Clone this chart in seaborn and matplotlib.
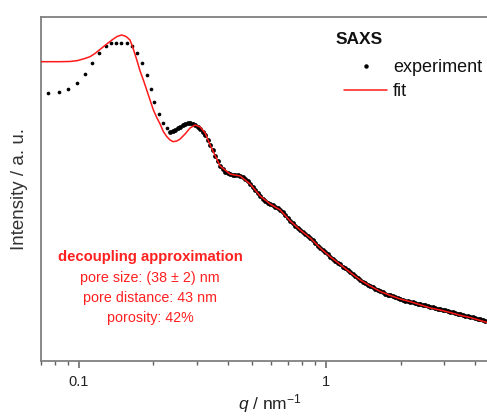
import matplotlib
matplotlib.use("Agg")
import matplotlib.pyplot as plt
import seaborn as sns
import pandas as pd
from matplotlib.lines import Line2D
from matplotlib.ticker import LogLocator, FixedLocator, FixedFormatter, NullFormatter

# ---- data ----
# low-q experimental points (sparse on the log axis)
q_exp_low = [0.0751, 0.0830, 0.0905, 0.0979, 0.1057, 0.1129, 0.1205, 0.1286, 0.1348, 0.1412,
             0.1479, 0.1560, 0.1640, 0.1722, 0.1804, 0.1880, 0.1950, 0.2018, 0.2102, 0.2180,
             0.2265]
I_exp_low = [1318, 1343, 1443, 1695, 2175, 2942, 3784, 4603, 4945, 5025,
             5025, 4945, 4603, 3784, 2942, 2117, 1443, 1027, 745, 581,
             508]

# higher-q experimental points (dense on the log axis)
q_exp_high = [0.2336, 0.2391, 0.2447, 0.2505, 0.2564, 0.2625, 0.2686, 0.2750, 0.2814, 0.2880,
              0.2948, 0.3018, 0.3090, 0.3163, 0.3237, 0.3313, 0.3392, 0.3472, 0.3553, 0.3637,
              0.3723, 0.3811, 0.3900, 0.3992, 0.4086, 0.4182, 0.4281, 0.4382, 0.4485, 0.4591,
              0.4699, 0.4810, 0.4923, 0.5039, 0.5159, 0.5281, 0.5405, 0.5533, 0.5662, 0.5796,
              0.5933, 0.6073, 0.6216, 0.6363, 0.6512, 0.6666, 0.6823, 0.6984, 0.7149, 0.7318,
              0.7490, 0.7667, 0.7847, 0.8032, 0.8222, 0.8416, 0.8614, 0.8817, 0.9025, 0.9238,
              0.9456, 0.9679, 0.9908, 1.0142, 1.038, 1.0625, 1.087, 1.113, 1.139, 1.166,
              1.194, 1.222, 1.251, 1.281, 1.310, 1.341, 1.373, 1.405, 1.439, 1.473,
              1.507, 1.543, 1.579, 1.616, 1.655, 1.694, 1.734, 1.775, 1.816, 1.859,
              1.903, 1.948, 1.994, 2.041, 2.089, 2.138, 2.188, 2.240, 2.293, 2.347,
              2.402, 2.459, 2.517, 2.576, 2.637, 2.699, 2.763, 2.828, 2.894, 2.962,
              3.033, 3.105, 3.177, 3.252, 3.329, 3.407, 3.487, 3.569, 3.654, 3.740,
              3.828, 3.918, 4.010, 4.105, 4.202, 4.301, 4.402]
I_exp_high = [464, 474, 485, 505, 526, 548, 570, 578, 581, 570,
              555, 527, 499, 462, 425, 373, 325, 281, 242, 212,
              185, 170, 159, 153, 149, 147, 145.5, 143.5, 141.7, 136,
              130.7, 122.2, 114.3, 105.5, 97.3, 89.8, 82.9, 77.5, 72.5, 69.6,
              66.9, 64.3, 61.8, 59.4, 57.0, 53.3, 49.9, 46.1, 42.5, 39.7,
              37.1, 35.2, 33.4, 31.7, 30.0, 28.4, 26.9, 25.2, 23.6, 22.0,
              20.6, 19.5, 18.5, 17.4, 16.3, 15.4, 14.55, 13.9, 13.25, 12.55,
              11.90, 11.28, 10.69, 10.20, 9.73, 9.23, 8.75, 8.40, 8.07, 7.75,
              7.45, 7.16, 6.88, 6.65, 6.43, 6.26, 6.09, 5.93, 5.78, 5.63,
              5.48, 5.37, 5.26, 5.15, 5.05, 4.97, 4.89, 4.81, 4.73, 4.66,
              4.60, 4.51, 4.42, 4.33, 4.25, 4.19, 4.13, 4.07, 4.02, 3.94,
              3.87, 3.81, 3.76, 3.68, 3.61, 3.55, 3.49, 3.43, 3.38, 3.33,
              3.29, 3.22, 3.16, 3.10, 3.04, 2.98, 2.92]

q_fit = [0.0700, 0.0763, 0.0838, 0.0920, 0.0983, 0.1057, 0.1108, 0.1161, 0.1216, 0.1295,
         0.1360, 0.1425, 0.1489, 0.1550, 0.1608, 0.1654, 0.1713, 0.1766, 0.1821, 0.1879,
         0.1938, 0.1999, 0.2063, 0.2128, 0.2195, 0.2272, 0.2336, 0.2402, 0.2486, 0.2564,
         0.2686, 0.2814, 0.2948, 0.3090, 0.3237, 0.3392, 0.3723, 0.4086, 0.4485, 0.4923,
         0.5405, 0.5933, 0.6512, 0.7149, 0.7847, 0.8614, 0.9456, 1.038, 1.139, 1.251,
         1.373, 1.507, 1.655, 1.816, 1.994, 2.188, 2.402, 2.637, 2.894, 3.177,
         3.487, 3.828, 4.202, 5.000]
I_fit = [3020, 3020, 3020, 3038, 3104, 3292, 3454, 3764, 4190, 4853,
         5403, 5933, 6177, 5933, 5403, 4361, 3162, 2356, 1851, 1417,
         1084, 829, 678, 570, 464, 402, 371, 355, 361, 381,
         436, 512, 555, 526, 448, 325, 185, 149, 141.7, 114.3,
         82.9, 66.9, 57.0, 42.5, 33.4, 26.9, 20.6, 16.3, 13.25, 10.69,
         8.75, 7.45, 6.43, 5.78, 5.26, 4.89, 4.50, 4.14, 3.91, 3.66,
         3.40, 3.20, 2.96, 2.55]

major_ticks = [0.1, 1]
major_labels = ["0.1", "1"]

annot_title = "decoupling approximation"
annot_lines = ["pore size: (38 \u00b1 2) nm", "pore distance: 43 nm", "porosity: 42%"]

# ---- style ----
sns.set_theme(style="white")
plt.rcParams["font.family"] = ["Liberation Sans", "DejaVu Sans"]
plt.rcParams["mathtext.fontset"] = "custom"
plt.rcParams["mathtext.rm"] = "Liberation Sans"
plt.rcParams["mathtext.it"] = "Liberation Sans:italic"

fig = plt.figure(figsize=(4.87, 4.17), dpi=100)
ax = fig.add_axes([0.0836, 0.1343, 0.941, 0.825])

df_low = pd.DataFrame({"q": q_exp_low, "I": I_exp_low})
df_high = pd.DataFrame({"q": q_exp_high, "I": I_exp_high})
df_fit = pd.DataFrame({"q": q_fit, "I": I_fit})

sns.scatterplot(data=df_low, x="q", y="I", ax=ax, color="black", s=7,
                linewidth=0, zorder=2, legend=False)
sns.scatterplot(data=df_high, x="q", y="I", ax=ax, color="black", s=12,
                linewidth=0, zorder=2, legend=False)
sns.lineplot(data=df_fit, x="q", y="I", ax=ax, color="#ff1a1a", lw=1.1,
             zorder=3, sort=False, estimator=None, legend=False)

ax.set_xscale("log")
ax.set_yscale("log")
ax.set_xlim(0.07, 5)
ax.set_ylim(1, 1e4)

for side in ["left", "bottom", "top", "right"]:
    ax.spines[side].set_color("#808080")
    ax.spines[side].set_linewidth(1.3)

ax.xaxis.set_major_locator(FixedLocator(major_ticks))
ax.xaxis.set_major_formatter(FixedFormatter(major_labels))
ax.xaxis.set_minor_locator(LogLocator(base=10, subs=[2, 3, 4, 5, 6, 7, 8, 9], numticks=20))
ax.xaxis.set_minor_formatter(NullFormatter())
ax.tick_params(axis="x", which="major", direction="out", length=5, width=1.1,
               color="#606060", labelsize=10.5, pad=5, bottom=True, top=False,
               labelcolor="#222222")
ax.tick_params(axis="x", which="minor", direction="out", length=3, width=1.0,
               color="#606060", bottom=True, top=False)
ax.set_yticks([])
ax.yaxis.set_minor_locator(FixedLocator([]))

ax.set_xlabel(r"$q$ / nm$^{-1}$", fontsize=12.5, color="#222222", labelpad=2.5)
ax.set_ylabel("Intensity / a. u.", fontsize=13.5, color="#333333", labelpad=9)

# SAXS header and legend
fig.text(359 / 487, 1 - 39 / 417, "SAXS", fontsize=12.5, fontweight="bold",
         ha="center", va="center", color="#111111")
handles = [Line2D([], [], marker="o", ms=2.2, color="black", ls="none"),
           Line2D([], [], color="#ff1a1a", lw=1.1)]
leg = ax.legend(handles, ["experiment", "fit"], loc="upper left",
                bbox_to_anchor=(344 / 487, 1 - 59 / 417), bbox_transform=fig.transFigure,
                frameon=False, fontsize=13, handlelength=2.4, handletextpad=0.3,
                labelspacing=0.4, borderpad=0.0, borderaxespad=0.0)
for t in leg.get_texts():
    t.set_color("#111111")

# annotation
red = "#ff2020"
fig.text(150 / 487, 1 - 257 / 417, annot_title, fontsize=10.7, fontweight="bold",
         ha="center", va="center", color=red)
for i, line in enumerate(annot_lines):
    fig.text(150 / 487, 1 - (278 + 20 * i) / 417, line, fontsize=10.3,
             ha="center", va="center", color=red)

fig.savefig("out.png", dpi=100)
